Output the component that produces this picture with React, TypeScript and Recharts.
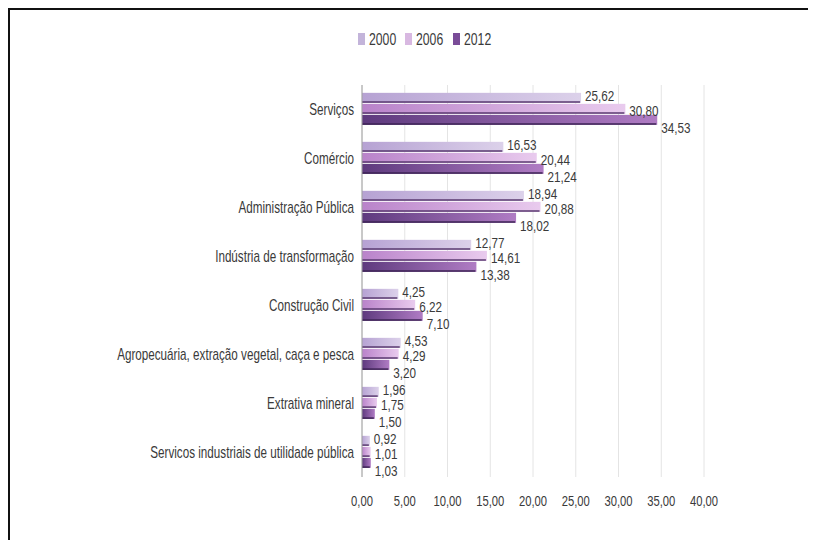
import React from 'react';
import { BarChart, Bar, XAxis, YAxis, CartesianGrid, LabelList } from 'recharts';

const categories = [
  'Serviços',
  'Comércio',
  'Administração Pública',
  'Indústria de transformação',
  'Construção Civil',
  'Agropecuária, extração vegetal, caça e pesca',
  'Extrativa mineral',
  'Servicos industriais de utilidade pública',
];
const years = ['2000', '2006', '2012'];
const values2000 = [25.62, 16.53, 18.94, 12.77, 4.25, 4.53, 1.96, 0.92];
const values2006 = [30.8, 20.44, 20.88, 14.61, 6.22, 4.29, 1.75, 1.01];
const values2012 = [34.53, 21.24, 18.02, 13.38, 7.1, 3.2, 1.5, 1.03];
const xTicks = [0, 5, 10, 15, 20, 25, 30, 35, 40];

const data = categories.map((c, i) => ({
  name: c,
  y2000: values2000[i],
  y2006: values2006[i],
  y2012: values2012[i],
}));

const FONT = '"Liberation Sans", Arial, sans-serif';
const TXT = '#3a3a3a';
const fmt = (v: number) => v.toFixed(2).replace('.', ',');

const grads = [
  { id: 'g2000', from: '#b6a2d3', to: '#dcd1ea', line: '#5a3a70', legend: '#c3b4da' },
  { id: 'g2006', from: '#b983ca', to: '#e9cbee', line: '#5a3a70', legend: '#d8b8e1' },
  { id: 'g2012', from: '#5e3a7e', to: '#b07cc4', line: '#3e2456', legend: '#7a4c98' },
];
const labelDy = [-2.5, 2, 7.5];

const makeShape = (idx: number) => (props: any) => {
  const { x, y, width, height } = props;
  if (!(width > 0)) return <g />;
  const g = grads[idx];
  return (
    <g>
      <rect x={x} y={y} width={width} height={height} fill={`url(#${g.id})`} />
      <line x1={x} x2={x + width - 1} y1={y + height - 0.75} y2={y + height - 0.75} stroke={g.line} strokeWidth={1.5} />
    </g>
  );
};

const makeLabel = (idx: number) => (props: any) => {
  const { x, y, width, height, value } = props;
  const tx = x + width + 4;
  const ty = y + height / 2 + labelDy[idx];
  return (
    <g transform={`translate(${tx},${ty}) scale(0.78,1)`}>
      <text x={0} y={0} dy="0.36em" textAnchor="start" fill={TXT} fontSize={15} fontFamily={FONT}>
        {fmt(Number(value))}
      </text>
    </g>
  );
};

const CatTick = (props: any) => {
  const { x, y, payload } = props;
  return (
    <g transform={`translate(${x},${y}) scale(0.73,1)`}>
      <text x={0} y={0} dy="0.36em" textAnchor="end" fill={TXT} fontSize={16} fontFamily={FONT}>
        {payload.value}
      </text>
    </g>
  );
};

const NumTick = (props: any) => {
  const { x, y, payload } = props;
  return (
    <g transform={`translate(${x},${y}) scale(0.75,1)`}>
      <text x={0} y={0} dy="0.71em" textAnchor="middle" fill={TXT} fontSize={15} fontFamily={FONT}>
        {fmt(Number(payload.value))}
      </text>
    </g>
  );
};

export default function App() {
  const legendX = [348, 395, 443];
  return (
    <div
      style={{
        width: 806,
        height: 530,
        borderTop: '2px solid #111',
        borderLeft: '2px solid #111',
        position: 'relative',
        background: '#fff',
      }}
    >
      <svg width={806} height={40} style={{ position: 'absolute', left: 0, top: 0 }}>
        {years.map((yr, i) => (
          <g key={yr}>
            <rect x={legendX[i]} y={23} width={7} height={12} fill={grads[i].legend} />
            <g transform={`translate(${legendX[i] + 11},${29}) scale(0.72,1)`}>
              <text x={0} y={0} dy="0.36em" fill={TXT} fontSize={17} fontFamily={FONT}>
                {yr}
              </text>
            </g>
          </g>
        ))}
      </svg>
      <BarChart
        width={806}
        height={530}
        data={data}
        layout="vertical"
        margin={{ top: 75, right: 112, bottom: 23, left: 12 }}
        barCategoryGap="16%"
        barGap={1}
      >
        <defs>
          {grads.map((g) => (
            <linearGradient key={g.id} id={g.id} x1="0" y1="0" x2="1" y2="0">
              <stop offset="0%" stopColor={g.from} />
              <stop offset="100%" stopColor={g.to} />
            </linearGradient>
          ))}
        </defs>
        <CartesianGrid horizontal={false} vertical={true} stroke="#e4e4e4" />
        <XAxis
          type="number"
          domain={[0, 40]}
          ticks={xTicks}
          axisLine={false}
          tickLine={false}
          tickMargin={12}
          height={40}
          tick={<NumTick />}
        />
        <YAxis
          type="category"
          dataKey="name"
          width={340}
          axisLine={{ stroke: '#a0a0a0' }}
          tickLine={false}
          interval={0}
          tick={<CatTick />}
        />
        {['y2000', 'y2006', 'y2012'].map((k, i) => (
          <Bar key={k} dataKey={k} name={years[i]} isAnimationActive={false} shape={makeShape(i)}>
            <LabelList dataKey={k} content={makeLabel(i)} />
          </Bar>
        ))}
      </BarChart>
    </div>
  );
}
